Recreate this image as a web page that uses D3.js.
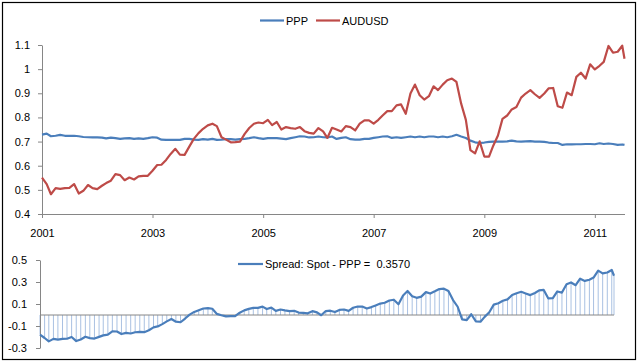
<!DOCTYPE html>
<html>
<head>
<meta charset="utf-8">
<script src="https://cdn.jsdelivr.net/npm/d3@7"></script>
<style>
body { margin: 0; background: #fff; }
svg { display: block; font-family: "Liberation Sans", Arial, sans-serif; }
.axis path, .axis line { stroke: #868686; }
.axis text { fill: #000; font-size: 11px; }
</style>
</head>
<body>
<svg id="chart" width="640" height="363"></svg>
<script>
// monthly points Jan 2001 - Jul 2011, plus the spot quote in mid July 2011
const firstMonth = new Date(2001, 0, 1);
const lastMonth = new Date(2011, 6, 1);
const lastQuote = new Date(2011, 6, 16);

const audusd = [
    0.551, 0.524, 0.482, 0.507, 0.504, 0.507, 0.508, 0.524, 0.485, 0.496, 0.520, 0.507,
    0.503, 0.517, 0.528, 0.538, 0.565, 0.561, 0.540, 0.551, 0.543, 0.556, 0.558, 0.558,
    0.579, 0.603, 0.604, 0.624, 0.649, 0.670, 0.646, 0.645, 0.679, 0.711, 0.735, 0.753,
    0.767, 0.774, 0.764, 0.718, 0.708, 0.697, 0.698, 0.700, 0.732, 0.756, 0.774, 0.779,
    0.776, 0.790, 0.768, 0.781, 0.750, 0.760, 0.756, 0.753, 0.760, 0.743, 0.736, 0.733,
    0.756, 0.742, 0.715, 0.757, 0.750, 0.742, 0.764, 0.760, 0.746, 0.774, 0.788, 0.788,
    0.774, 0.790, 0.808, 0.826, 0.826, 0.850, 0.854, 0.815, 0.899, 0.936, 0.892, 0.874,
    0.888, 0.929, 0.913, 0.936, 0.954, 0.961, 0.947, 0.857, 0.790, 0.665, 0.651, 0.701,
    0.638, 0.638, 0.683, 0.725, 0.794, 0.808, 0.833, 0.843, 0.882, 0.899, 0.913, 0.896,
    0.881, 0.899, 0.920, 0.922, 0.846, 0.840, 0.903, 0.892, 0.968, 0.985, 0.961, 1.020,
    0.999, 1.014, 1.030, 1.096, 1.068, 1.072, 1.097, 1.043
];

const ppp = [
    0.729, 0.733, 0.722, 0.724, 0.728, 0.724, 0.724, 0.724, 0.722, 0.719, 0.718, 0.717,
    0.717, 0.716, 0.713, 0.716, 0.714, 0.711, 0.713, 0.714, 0.711, 0.713, 0.711, 0.714,
    0.718, 0.716, 0.708, 0.707, 0.707, 0.707, 0.707, 0.711, 0.711, 0.708, 0.707, 0.710,
    0.708, 0.711, 0.707, 0.708, 0.710, 0.710, 0.708, 0.710, 0.711, 0.714, 0.718, 0.714,
    0.711, 0.714, 0.714, 0.714, 0.712, 0.710, 0.714, 0.718, 0.722, 0.721, 0.717, 0.718,
    0.721, 0.718, 0.717, 0.721, 0.711, 0.715, 0.718, 0.710, 0.708, 0.708, 0.711, 0.711,
    0.715, 0.718, 0.721, 0.722, 0.715, 0.718, 0.715, 0.718, 0.721, 0.718, 0.721, 0.718,
    0.721, 0.721, 0.718, 0.721, 0.718, 0.722, 0.728, 0.721, 0.715, 0.704, 0.697, 0.694,
    0.696, 0.699, 0.700, 0.700, 0.700, 0.701, 0.704, 0.701, 0.700, 0.701, 0.702, 0.700,
    0.700, 0.699, 0.696, 0.694, 0.694, 0.686, 0.689, 0.688, 0.689, 0.689, 0.690, 0.690,
    0.689, 0.693, 0.690, 0.692, 0.690, 0.686, 0.688, 0.686
];

const spread = [
    -0.178, -0.209, -0.240, -0.217, -0.224, -0.217, -0.216, -0.200, -0.237, -0.223, -0.198, -0.210,
    -0.214, -0.199, -0.185, -0.178, -0.149, -0.150, -0.173, -0.163, -0.168, -0.157, -0.153, -0.156,
    -0.139, -0.113, -0.104, -0.083, -0.058, -0.037, -0.061, -0.066, -0.032, 0.003, 0.028, 0.043,
    0.059, 0.063, 0.057, 0.010, -0.002, -0.013, -0.010, -0.010, 0.021, 0.042, 0.056, 0.065,
    0.065, 0.076, 0.054, 0.067, 0.038, 0.050, 0.042, 0.035, 0.038, 0.022, 0.019, 0.015,
    0.035, 0.024, -0.002, 0.036, 0.039, 0.027, 0.046, 0.050, 0.038, 0.066, 0.077, 0.077,
    0.059, 0.072, 0.087, 0.104, 0.111, 0.132, 0.139, 0.097, 0.178, 0.218, 0.171, 0.156,
    0.167, 0.208, 0.195, 0.215, 0.236, 0.239, 0.219, 0.136, 0.075, -0.039, -0.046, 0.007,
    -0.058, -0.061, -0.017, 0.025, 0.094, 0.107, 0.129, 0.142, 0.182, 0.198, 0.211, 0.196,
    0.181, 0.200, 0.224, 0.228, 0.152, 0.154, 0.214, 0.204, 0.279, 0.296, 0.271, 0.330,
    0.310, 0.321, 0.340, 0.404, 0.378, 0.386, 0.409, 0.357
];

const yearTicks = [2001, 2003, 2005, 2007, 2009, 2011];
const topTicks = [0.4, 0.5, 0.6, 0.7, 0.8, 0.9, 1, 1.1];
const spreadTicks = [-0.3, -0.1, 0.1, 0.3, 0.5];
const seriesNames = ["PPP", "AUDUSD"];
const spreadLabel = "Spread: Spot - PPP =  0.3570";

const blue = "#4a7ebb";
const red = "#be4b48";

const dates = d3.timeMonth.range(firstMonth, d3.timeMonth.offset(lastMonth, 1)).concat([lastQuote]);
const svg = d3.select('#chart');

// chart area border
svg.append("rect")
    .attr("x", 2.5)
    .attr("y", 2.5)
    .attr("width", 633)
    .attr("height", 357)
    .attr("fill", "#fff")
    .attr("stroke", "#000")
    .attr("stroke-width", 1.2);

// ---- top panel: PPP vs AUDUSD
const x = d3.scaleTime().domain([firstMonth, lastQuote]).range([42, 624.5]);
const y = d3.scaleLinear().domain([0.4, 1.1]).range([214, 45]);

svg.append("g")
    .attr("class", "axis")
    .attr("transform", "translate(0,214)")
    .call(d3.axisBottom(x)
        .tickValues(yearTicks.map(yr => new Date(yr, 0, 1)))
        .tickFormat(d3.timeFormat("%Y"))
        .tickSize(4)
        .tickSizeOuter(0)
        .tickPadding(11));

svg.append("g")
    .attr("class", "axis")
    .attr("transform", "translate(42,0)")
    .call(d3.axisLeft(y)
        .tickValues(topTicks)
        .tickFormat(d => String(d))
        .tickSize(4)
        .tickSizeOuter(0)
        .tickPadding(8));

const topLine = function(values) {
    return d3.line()
        .x((d, i) => x(dates[i]))
        .y(d => y(d))(values);
}

svg.append("path")
    .attr("d", topLine(ppp))
    .attr("fill", "none")
    .attr("stroke", blue)
    .attr("stroke-width", 2.2)
    .attr("stroke-linejoin", "round");

svg.append("path")
    .attr("d", topLine(audusd))
    .attr("fill", "none")
    .attr("stroke", red)
    .attr("stroke-width", 2.2)
    .attr("stroke-linejoin", "round");

// top legend
const legendX = [260, 316];
seriesNames.forEach(function(name, i) {
    svg.append("line")
        .attr("x1", legendX[i])
        .attr("x2", legendX[i] + 24)
        .attr("y1", 20.5)
        .attr("y2", 20.5)
        .attr("stroke", i === 0 ? blue : red)
        .attr("stroke-width", 2.2);
    svg.append("text")
        .attr("x", legendX[i] + 26)
        .attr("y", 24.5)
        .attr("font-size", 11)
        .text(name);
});

// ---- bottom panel: spread
const x2 = d3.scaleTime().domain([firstMonth, lastQuote]).range([40, 614]);
const y2 = d3.scaleLinear().domain([-0.3, 0.5]).range([348, 260]);

svg.append("g")
    .selectAll("line")
    .data(spread)
    .join("line")
    .attr("x1", (d, i) => x2(dates[i]))
    .attr("x2", (d, i) => x2(dates[i]))
    .attr("y1", d => y2(d))
    .attr("y2", y2(0))
    .attr("stroke", "#a9c1e2")
    .attr("stroke-width", 1);

svg.append("line")
    .attr("x1", 40)
    .attr("x2", 614)
    .attr("y1", y2(0))
    .attr("y2", y2(0))
    .attr("stroke", "#868686");

svg.append("g")
    .attr("class", "axis")
    .attr("transform", "translate(40,0)")
    .call(d3.axisLeft(y2)
        .tickValues(spreadTicks)
        .tickFormat(d => String(d))
        .tickSize(4)
        .tickSizeOuter(0)
        .tickPadding(9));

svg.append("path")
    .attr("d", d3.line()
        .x((d, i) => x2(dates[i]))
        .y(d => y2(d))(spread))
    .attr("fill", "none")
    .attr("stroke", blue)
    .attr("stroke-width", 2.2)
    .attr("stroke-linejoin", "round");

svg.append("line")
    .attr("x1", 238)
    .attr("x2", 263)
    .attr("y1", 264)
    .attr("y2", 264)
    .attr("stroke", blue)
    .attr("stroke-width", 2.2);

svg.append("text")
    .attr("x", 265)
    .attr("y", 268)
    .attr("font-size", 11)
    .style("white-space", "pre")
    .text(spreadLabel);
</script>
</body>
</html>
